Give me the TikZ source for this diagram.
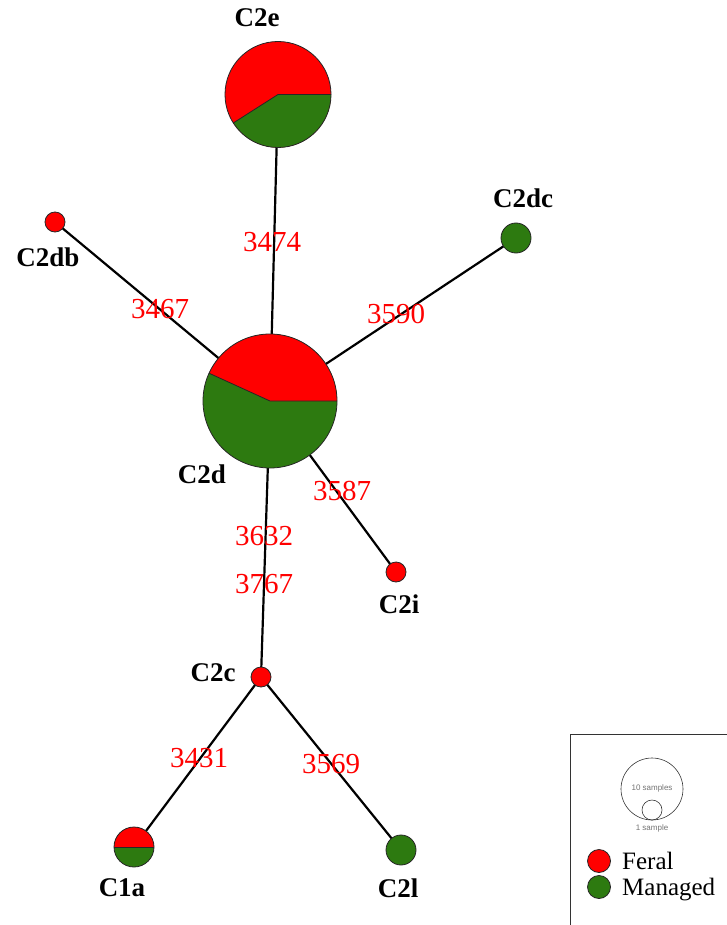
\documentclass[tikz,border=0pt]{standalone}
\usepackage{fontspec}
\setmainfont{Liberation Serif}
\newfontfamily\smallsans{Liberation Sans}
\usetikzlibrary{backgrounds}
\definecolor{feral}{RGB}{255,0,0}
\definecolor{managed}{RGB}{45,122,16}
\begin{document}
\begin{tikzpicture}[x=1pt,y=1pt,
  hap/.style={circle, draw=black!85, line width=0.8pt, inner sep=0pt, minimum size=#1},
  pie/.style={circle, inner sep=0pt, minimum size=#1},
  lab/.style={font=\fontsize{27}{27}\selectfont\bfseries, inner sep=0pt},
  mut/.style={font=\fontsize{29}{29}\selectfont, text=feral, inner sep=0pt},
  leg/.style={font=\fontsize{25}{25}\selectfont, inner sep=0pt, anchor=base west},
  tiny/.style={font=\smallsans\fontsize{8}{8}\selectfont, text=black!55, inner sep=0pt},
  edge/.style={line width=2.2pt, black},
  outl/.style={draw=black!85, line width=0.8pt}]
\useasboundingbox (0,0) rectangle (727,-925);

% haplotype nodes
\node[pie=106pt] (C2e) at (278,-94.5) {};
\node[pie=134pt] (C2d) at (270,-401) {};
\node[hap=20pt, fill=feral] (C2db) at (55,-222) {};
\node[hap=30pt, fill=managed] (C2dc) at (516,-238) {};
\node[hap=20pt, fill=feral] (C2i) at (396,-572) {};
\node[hap=20pt, fill=feral] (C2c) at (261,-677) {};
\node[pie=40pt] (C1a) at (134,-847) {};
\node[hap=30pt, fill=managed] (C2l) at (401,-850) {};

% pie charts
\fill[feral] (C2e.center) circle[radius=53];
\fill[managed] (C2e.center) -- ++(212.5:53) arc[start angle=212.5, end angle=360, radius=53] -- cycle;
\draw[outl] (C2e.center) -- ++(212.5:53) (C2e.center) -- ++(0:53);
\draw[outl] (C2e.center) circle[radius=53];

\fill[managed] (C2d.center) circle[radius=67];
\fill[feral] (C2d.center) -- ++(0:67) arc[start angle=0, end angle=155.5, radius=67] -- cycle;
\draw[outl] (C2d.center) -- ++(155.5:67) (C2d.center) -- ++(0:67);
\draw[outl] (C2d.center) circle[radius=67];

\fill[managed] (C1a.center) circle[radius=20];
\fill[feral] (C1a.center) -- ++(0:20) arc[start angle=0, end angle=180, radius=20] -- cycle;
\draw[outl] (C1a.center) ++(180:20) -- ++(40,0);
\draw[outl] (C1a.center) circle[radius=20];

% connectors
\begin{scope}[on background layer]
\draw[edge] (C2e.center) -- (C2d.center);
\draw[edge] (C2db.center) -- (C2d.center);
\draw[edge] (C2dc.center) -- (C2d.center);
\draw[edge] (C2i.center) -- (C2d.center);
\draw[edge] (C2c.center) -- (C2d.center);
\draw[edge] (C2c.center) -- (C1a.center);
\draw[edge] (C2c.center) -- (C2l.center);
\end{scope}

% node labels
\node[lab] (lC2e) at (257,-18) {C2e};
\node[lab] (lC2db) at (48,-257) {C2db};
\node[lab] (lC2dc) at (523,-198) {C2dc};
\node[lab] (lC2d) at (202,-474) {C2d};
\node[lab] (lC2i) at (399,-604) {C2i};
\node[lab] (lC2c) at (213,-673) {C2c};
\node[lab] (lC1a) at (122,-888) {C1a};
\node[lab] (lC2l) at (398,-888) {C2l};

% mutation labels
\node[mut] (m3474) at (272,-242) {3474};
\node[mut] (m3467) at (160,-309) {3467};
\node[mut] (m3590) at (396,-314) {3590};
\node[mut] (m3587) at (342,-491) {3587};
\node[mut] (m3632) at (264,-536) {3632};
\node[mut] (m3767) at (264,-584) {3767};
\node[mut] (m3431) at (199,-758) {3431};
\node[mut] (m3569) at (331,-764) {3569};

% legend
\draw[black!80, line width=1pt] (570,-925) -- (570,-734) -- (727,-734);
\node[circle, draw=black!80, line width=0.6pt, inner sep=0pt, minimum size=62pt] (big) at (652,-789) {};
\node[circle, draw=black!80, line width=0.6pt, inner sep=0pt, minimum size=20pt] (small) at (652,-810) {};
\node[tiny] (t10) at (652,-788) {10 samples};
\node[tiny] (t1) at (652,-828) {1 sample};
\node[hap=23pt, fill=feral] (lf) at (599,-861) {};
\node[hap=23pt, fill=managed] (lm) at (599,-887) {};
\node[leg] (tf) at (622,-869) {Feral};
\node[leg] (tm) at (622,-895) {Managed};
\end{tikzpicture}
\end{document}
